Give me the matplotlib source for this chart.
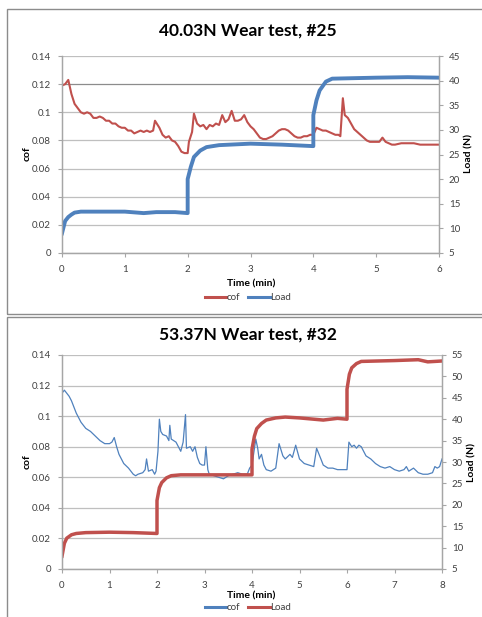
import matplotlib.pyplot as plt
from matplotlib.patches import Rectangle
from matplotlib.lines import Line2D

plt.rcParams['font.family'] = ['Lato', 'DejaVu Sans']

RED = '#C0504D'
BLUE = '#4F81BD'
GRID = '#BFBFBF'
AXC = '#A6A6A6'
TXT = '#404040'

# test #25 (40.03 N)
t25_cof = [0, 0.05, 0.1, 0.15, 0.2, 0.25, 0.3, 0.35, 0.4, 0.45, 0.5, 0.55, 0.6, 0.65, 0.7,
           0.75, 0.8, 0.85, 0.9, 0.95, 1.0, 1.05, 1.1, 1.15, 1.2, 1.25, 1.3, 1.35, 1.4, 1.45,
           1.48, 1.55, 1.6, 1.65, 1.7, 1.75, 1.8, 1.85, 1.9, 1.95, 2.0, 2.02, 2.07, 2.1, 2.15,
           2.2, 2.25, 2.3, 2.35, 2.4, 2.45, 2.5, 2.55, 2.6, 2.65, 2.7, 2.75, 2.8, 2.85, 2.9,
           2.95, 3.0, 3.05, 3.1, 3.15, 3.2, 3.25, 3.3, 3.35, 3.4, 3.45, 3.5, 3.55, 3.6, 3.65,
           3.7, 3.75, 3.8, 3.85, 3.9, 3.95, 4.0, 4.05, 4.1, 4.15, 4.2, 4.25, 4.3, 4.35, 4.4,
           4.43, 4.47, 4.5, 4.55, 4.6, 4.65, 4.7, 4.75, 4.8, 4.85, 4.9, 4.95, 5.0, 5.05, 5.1,
           5.15, 5.2, 5.25, 5.3, 5.4, 5.5, 5.6, 5.7, 5.8, 5.9, 6.0]
cof25 = [0.119, 0.120, 0.123, 0.113, 0.106, 0.103, 0.100, 0.099, 0.100, 0.099, 0.096, 0.096,
         0.097, 0.096, 0.094, 0.094, 0.092, 0.092, 0.090, 0.089, 0.089, 0.087, 0.087, 0.085,
         0.086, 0.087, 0.086, 0.087, 0.086, 0.087, 0.094, 0.089, 0.084, 0.082, 0.083, 0.080,
         0.079, 0.076, 0.072, 0.071, 0.071, 0.079, 0.086, 0.099, 0.092, 0.090, 0.091, 0.088,
         0.091, 0.090, 0.092, 0.091, 0.098, 0.093, 0.095, 0.101, 0.094, 0.094, 0.095, 0.098,
         0.093, 0.090, 0.088, 0.085, 0.082, 0.081, 0.081, 0.082, 0.083, 0.085, 0.087, 0.088,
         0.088, 0.087, 0.085, 0.083, 0.082, 0.082, 0.083, 0.083, 0.084, 0.084, 0.089, 0.088,
         0.087, 0.087, 0.086, 0.085, 0.084, 0.084, 0.083, 0.110, 0.098, 0.096, 0.092, 0.088,
         0.086, 0.084, 0.082, 0.080, 0.079, 0.079, 0.079, 0.079, 0.082, 0.079, 0.078, 0.077,
         0.077, 0.078, 0.078, 0.078, 0.077, 0.077, 0.077, 0.077]
t25_load = [0, 0.05, 0.1, 0.15, 0.2, 0.3, 0.6, 1.0, 1.3, 1.5, 1.8, 2.0, 2.0, 2.05, 2.1, 2.2,
            2.3, 2.5, 3.0, 3.5, 4.0, 4.0, 4.05, 4.1, 4.2, 4.3, 5.0, 5.5, 6.0]
load25 = [9.0, 11.5, 12.3, 12.8, 13.2, 13.4, 13.4, 13.4, 13.1, 13.3, 13.3, 13.1, 20.0, 22.5,
          24.5, 25.8, 26.5, 26.9, 27.2, 27.0, 26.7, 33.0, 36.0, 38.0, 39.8, 40.4, 40.6, 40.7,
          40.6]

# test #32 (53.37 N)
t32_cof = [0, 0.05, 0.1, 0.15, 0.2, 0.25, 0.3, 0.35, 0.4, 0.45, 0.5, 0.6, 0.7, 0.8, 0.9,
           1.0, 1.05, 1.1, 1.15, 1.2, 1.3, 1.4, 1.5, 1.55, 1.6, 1.7, 1.75, 1.78, 1.82, 1.9,
           1.95, 1.98, 2.02, 2.05, 2.08, 2.12, 2.2, 2.25, 2.27, 2.3, 2.4, 2.5, 2.55, 2.6, 2.62,
           2.7, 2.75, 2.8, 2.85, 2.9, 2.95, 3.0, 3.03, 3.07, 3.1, 3.2, 3.3, 3.4, 3.5, 3.6, 3.7,
           3.8, 3.9, 3.95, 4.0, 4.08, 4.12, 4.15, 4.2, 4.25, 4.3, 4.4, 4.5, 4.57, 4.65, 4.7,
           4.8, 4.85, 4.92, 5.0, 5.1, 5.2, 5.3, 5.36, 5.45, 5.5, 5.6, 5.7, 5.8, 5.9, 6.0, 6.04,
           6.1, 6.15, 6.2, 6.25, 6.3, 6.35, 6.4, 6.5, 6.6, 6.7, 6.8, 6.9, 7.0, 7.1, 7.2, 7.25,
           7.3, 7.4, 7.5, 7.6, 7.7, 7.8, 7.85, 7.9, 7.95, 8.0]
cof32 = [0.115, 0.117, 0.115, 0.113, 0.110, 0.106, 0.102, 0.099, 0.096, 0.094, 0.092, 0.090,
         0.087, 0.084, 0.082, 0.082, 0.083, 0.086, 0.080, 0.075, 0.069, 0.066, 0.062, 0.061,
         0.062, 0.063, 0.065, 0.072, 0.064, 0.065, 0.062, 0.064, 0.077, 0.098, 0.090, 0.088,
         0.087, 0.084, 0.094, 0.085, 0.083, 0.077, 0.083, 0.101, 0.079, 0.080, 0.077, 0.080,
         0.073, 0.069, 0.068, 0.068, 0.080, 0.065, 0.062, 0.061, 0.060, 0.059, 0.061, 0.062,
         0.063, 0.062, 0.062, 0.066, 0.068, 0.085, 0.079, 0.072, 0.075, 0.068, 0.065, 0.064,
         0.066, 0.082, 0.074, 0.072, 0.075, 0.073, 0.081, 0.072, 0.069, 0.068, 0.067, 0.079,
         0.072, 0.068, 0.066, 0.066, 0.065, 0.065, 0.065, 0.083, 0.080, 0.081, 0.079, 0.081,
         0.080, 0.077, 0.074, 0.072, 0.069, 0.067, 0.066, 0.067, 0.065, 0.064, 0.065, 0.067,
         0.064, 0.066, 0.063, 0.062, 0.062, 0.063, 0.067, 0.066, 0.067, 0.072]
t32_load = [0, 0.05, 0.1, 0.2, 0.3, 0.5, 1.0, 1.5, 2.0, 2.0, 2.05, 2.1, 2.2, 2.3, 2.5, 3.0,
            4.0, 4.0, 4.05, 4.1, 4.2, 4.3, 4.5, 4.7, 5.0, 5.5, 5.8, 6.0, 6.0, 6.05, 6.1, 6.2,
            6.3, 7.0, 7.5, 7.7, 8.0]
load32 = [8.0, 11.0, 12.2, 13.0, 13.3, 13.5, 13.6, 13.5, 13.3, 21.0, 24.0, 25.2, 26.3, 26.8,
          27.0, 27.0, 27.0, 33.0, 36.0, 37.8, 39.0, 39.8, 40.3, 40.5, 40.3, 39.8, 40.2, 40.0,
          47.0, 50.5, 52.0, 53.0, 53.5, 53.7, 53.9, 53.4, 53.6]

W, H = 482, 617
fig = plt.figure(figsize=(W / 100, H / 100), dpi=100)


def fx(px):
    return px / W


def fy(py):
    return 1 - py / H


# chart frames
for top, bot in [(9, 314), (317, 640)]:
    fig.add_artist(Rectangle((fx(7), fy(bot)), fx(500 - 7), (bot - top) / H,
                             transform=fig.transFigure, fill=False,
                             edgecolor='#8C8C8C', linewidth=1.0))


def panel(left, right, top, bottom, t_cof, cof, t_load, load, cof_col, load_col,
          cof_lw, load_lw, xmax, ymax2, title, title_y, xlab_y, leg_y, ylab_y, ylab2_x):
    ax = fig.add_axes([fx(left), fy(bottom), fx(right - left), (bottom - top) / H])
    ax2 = ax.twinx()
    ax.plot(t_cof, cof, color=cof_col, lw=cof_lw)
    ax2.plot(t_load, load, color=load_col, lw=load_lw)
    ax.set_xlim(0, xmax)
    ax.set_ylim(0, 0.14)
    ax2.set_ylim(5, ymax2)
    ax.set_xticks(range(0, xmax + 1))
    ax.set_yticks([0, 0.02, 0.04, 0.06, 0.08, 0.1, 0.12, 0.14])
    ax.set_yticklabels(['0', '0.02', '0.04', '0.06', '0.08', '0.1', '0.12', '0.14'])
    ax2.set_yticks(range(5, ymax2 + 1, 5))
    ax.grid(axis='y', color=GRID, lw=0.9)
    ax.set_axisbelow(True)
    for a in (ax, ax2):
        for s in a.spines.values():
            s.set_color(AXC)
            s.set_linewidth(0.9)
        a.spines['top'].set_visible(False)
        a.tick_params(colors=AXC, labelcolor=TXT, labelsize=7, length=3, width=0.8)
    ax.tick_params(axis='x', pad=6)
    ax.tick_params(axis='y', pad=5)
    ax2.tick_params(axis='y', pad=4)

    fig.text(fx(248), fy(title_y), title, ha='center', va='center',
             fontsize=12.5, fontweight='bold', color='black')
    fig.text(fx(251), fy(xlab_y), 'Time (min)', ha='center', va='center',
             fontsize=7.5, fontweight='bold', color='black')
    fig.text(fx(27), fy(ylab_y), 'cof', ha='center', va='center', rotation=90,
             fontsize=7.5, fontweight='bold', color='black')
    fig.text(fx(ylab2_x), fy(ylab_y), 'Load (N)', ha='center', va='center', rotation=90,
             fontsize=7.5, fontweight='bold', color='black')
    h1 = Line2D([], [], color=cof_col, lw=2.2)
    h2 = Line2D([], [], color=load_col, lw=2.2)
    fig.legend([h1, h2], ['cof', 'Load'], loc='center', bbox_to_anchor=(fx(248), fy(leg_y)),
               ncol=2, frameon=False, fontsize=7, handlelength=2.2, handletextpad=0.1,
               columnspacing=0.8, labelcolor=TXT, borderpad=0, borderaxespad=0)
    return ax, ax2


ax, ax2 = panel(62, 439, 56, 253, t25_cof, cof25, t25_load, load25, RED, BLUE, 1.5, 2.8,
                6, 45, '40.03N Wear test, #25', 31, 284, 298, 154, 469)
ax.get_ygridlines()[6].set_color('#8C8C8C')

panel(62, 442, 355, 569, t32_cof, cof32, t32_load, load32, BLUE, RED, 0.9, 2.5,
      8, 55, '53.37N Wear test, #32', 335, 596, 608, 462, 472)

fig.savefig('out.png', dpi=100)
